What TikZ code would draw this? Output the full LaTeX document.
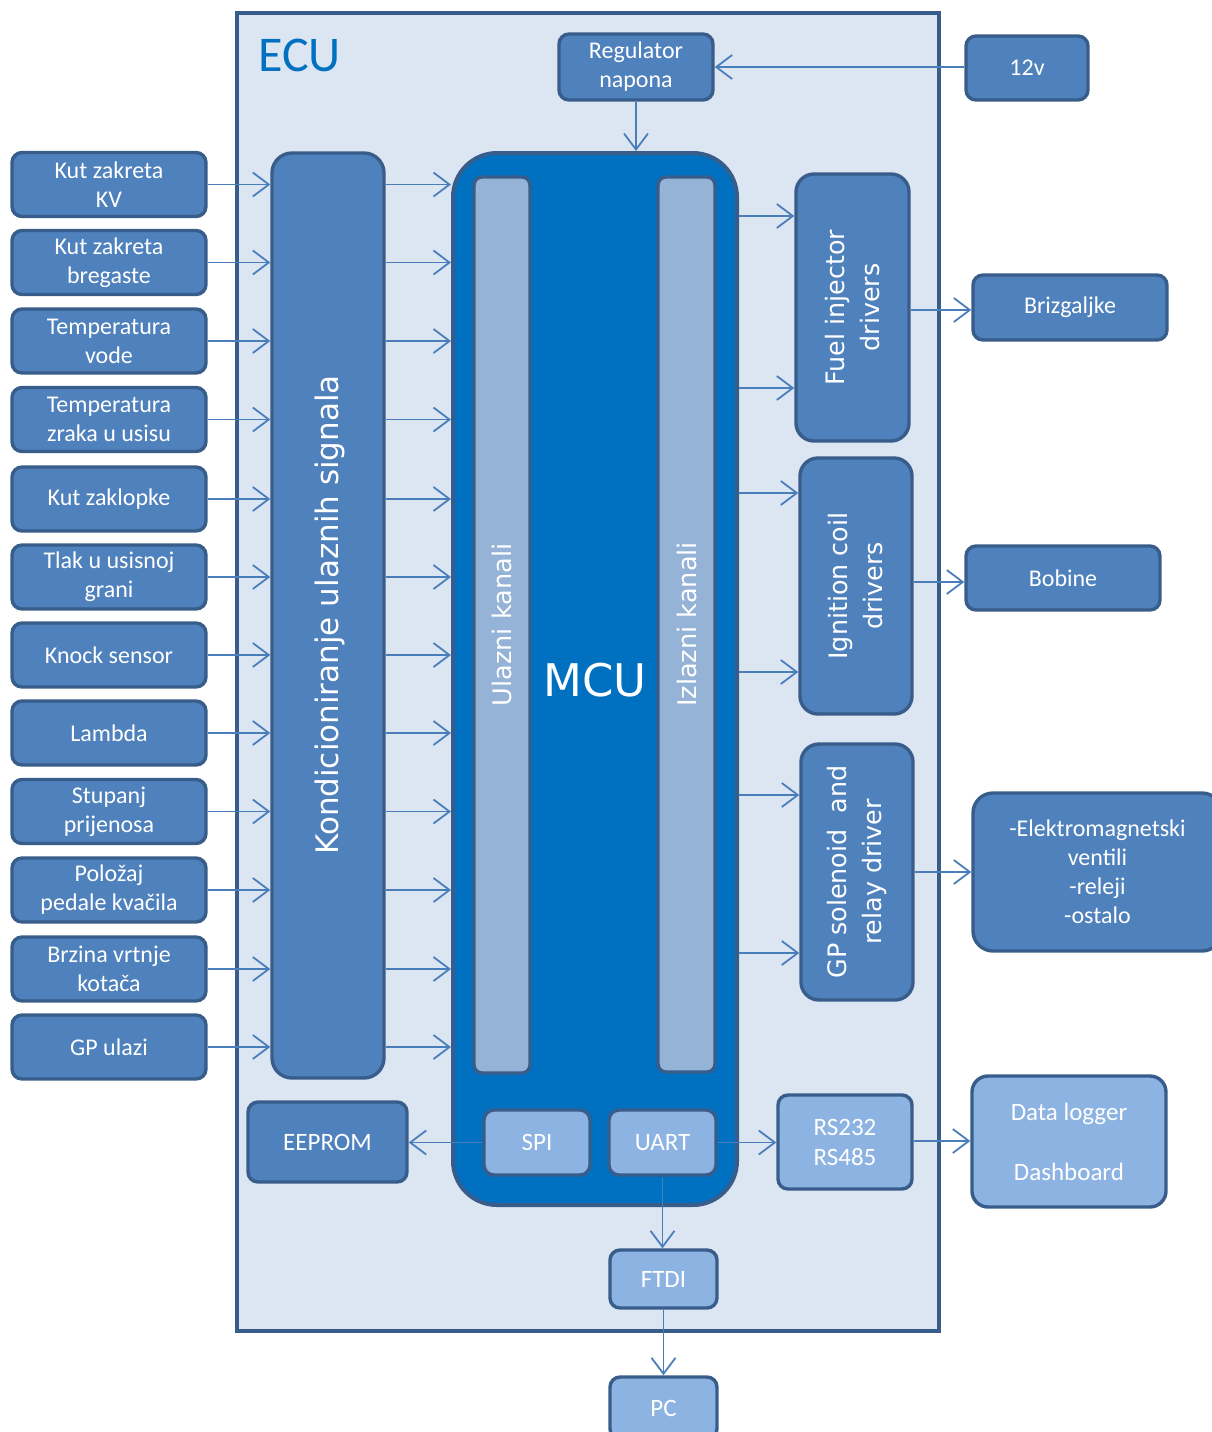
\documentclass[tikz,border=0pt]{standalone}
\usepackage{fontspec}
\setmainfont{Carlito}
\newfontfamily\vfont{DejaVu Sans}
\usetikzlibrary{arrows.meta}
\definecolor{ecufill}{HTML}{DCE6F2}
\definecolor{bord}{HTML}{385D8A}
\definecolor{boxfill}{HTML}{4F81BD}
\definecolor{mcufill}{HTML}{0070C0}
\definecolor{chanfill}{HTML}{95B3D7}
\definecolor{lightfill}{HTML}{8DB3E2}
\definecolor{arrc}{HTML}{4A7EBB}
\tikzset{
  sz/.style 2 args={minimum width={#1*0.5pt}, minimum height={#2*0.5pt}},
  box/.style={draw=bord, line width=1.7pt, fill=boxfill, rounded corners=5pt,
    text=white, align=center, inner sep=0pt, font=\fontsize{12}{14.5}\selectfont},
  lbox/.style={box, fill=lightfill, font=\fontsize{12.5}{15}\selectfont},
  chan/.style={draw=bord, line width=1.7pt, fill=chanfill, rounded corners=4pt, inner sep=0pt},
  rtext/.style={rotate=90, text=white, align=center, inner sep=0pt},
  arr/.style={draw=arrc, line width=0.9pt, -{Straight Barb[length=8pt,width=12pt]}}
}
\begin{document}
\begin{tikzpicture}[x=0.5pt,y=-0.5pt]
\useasboundingbox (0,0) rectangle (1212,1432);
% ECU frame
\node[draw=bord, line width=2.4pt, fill=ecufill, sz={702}{1318}, inner sep=0pt] (ecu) at (588,672) {};
\node[anchor=west, text=mcufill, font=\fontsize{25}{30}\selectfont, inner sep=0pt] (ecut) at (258,55) {ECU};
% input boxes
\foreach \n/\y/\t in {1/184.5/{Kut zakreta\\KV},2/262.5/{Kut zakreta\\bregaste},3/341/{Temperatura\\vode},
  4/419.5/{Temperatura\\zraka u usisu},5/499/{Kut zaklopke},6/577/{Tlak u usisnoj\\grani},
  7/655/{Knock sensor},8/733/{Lambda},9/811.5/{Stupanj\\prijenosa},10/890/{Položaj\\pedale kvačila},
  11/969/{Brzina vrtnje\\kotača},12/1047/{GP ulazi}}{
  \node[box, sz={194}{64}] (in\n) at (109,\y) {\t};
}
% Kondicioniranje
\node[box, sz={112}{925}, rounded corners=10pt] (kond) at (328,615.5) {};
\node[rtext, font=\vfont\fontsize{15.5}{18}\selectfont] (kondt) at (330,615) {Kondicioniranje ulaznih signala};
% MCU
\node[draw=bord, line width=2pt, fill=mcufill, rounded corners=22pt, sz={284}{1052}, inner sep=0pt] (mcu) at (595,679) {};
\node[chan, sz={56}{896}] (ul) at (502,625) {};
\node[chan, sz={57}{895}] (iz) at (686.5,624.5) {};
\node[rtext, font=\vfont\fontsize{12.8}{16}\selectfont] (ult) at (ul.center) {Ulazni kanali};
\node[rtext, font=\vfont\fontsize{12.8}{16}\selectfont] (izt) at (iz.center) {Izlazni kanali};
\node[text=white, font=\vfont\fontsize{22.5}{26}\selectfont, inner sep=0pt] (mcut) at (595,680) {MCU};
\node[lbox, sz={106}{65}] (spi) at (537,1142.5) {SPI};
\node[lbox, sz={107}{65}] (uart) at (662.5,1142.5) {UART};
% regulator and 12v
\node[box, sz={154}{66}] (reg) at (636,67) {Regulator\\napona};
\node[box, sz={122}{64}] (v12) at (1027,68) {12v};
% drivers
\node[box, sz={113}{267}, rounded corners=9pt] (fuel) at (852.5,307.5) {};
\node[rtext, font=\vfont\fontsize{12.7}{17.5}\selectfont] (fuelt) at (fuel.center) {Fuel injector\\drivers};
\node[box, sz={112}{256}, rounded corners=9pt] (ign) at (856,586) {};
\node[rtext, font=\vfont\fontsize{12.7}{17.5}\selectfont] (ignt) at (ign.center) {Ignition coil\\drivers};
\node[box, sz={112}{256}, rounded corners=9pt] (gp) at (857,872) {};
\node[rtext, font=\vfont\fontsize{12.7}{17.5}\selectfont] (gpt) at (gp.center) {GP solenoid~ and\\relay driver};
% outputs
\node[box, sz={194}{65}] (brz) at (1070,307.5) {Brizgaljke};
\node[box, sz={194}{64}] (bob) at (1063,578) {Bobine};
\node[box, sz={249}{158}, rounded corners=10pt] (elm) at (1097.5,872) {-Elektromagnetski\\ventili\\-releji\\-ostalo};
\node[box, sz={159}{80}, font=\fontsize{12.5}{15}\selectfont] (eep) at (327.5,1142) {EEPROM};
\node[lbox, sz={134}{94}] (rs) at (845,1142) {RS232\\RS485};
\node[lbox, sz={194}{131}, rounded corners=8pt, font=\fontsize{12.5}{15}\selectfont] (dl) at (1069,1141.5) {Data logger\\[15pt]Dashboard};
\node[lbox, sz={107}{58}] (ftdi) at (663.5,1279) {FTDI};
\node[lbox, sz={107}{62}] (pc) at (663.5,1408) {PC};
% connectors: inputs
\foreach \n in {1,...,12}{
  \draw[arr] (in\n.east) -- (in\n.east -| kond.west);
  \draw[arr] (in\n.east -| kond.east) -- (in\n.east -| mcu.west);
}
\draw[arr] (v12.west |- reg.east) -- (reg.east);
\draw[arr] (reg.south) -- (reg.south |- mcu.north);
\draw[arr] (mcu.east |- 0,216) -- (fuel.west |- 0,216);
\draw[arr] (mcu.east |- 0,388) -- (fuel.west |- 0,388);
\draw[arr] (mcu.east |- 0,493) -- (ign.west |- 0,493);
\draw[arr] (mcu.east |- 0,672) -- (ign.west |- 0,672);
\draw[arr] (mcu.east |- 0,795) -- (gp.west |- 0,795);
\draw[arr] (mcu.east |- 0,953) -- (gp.west |- 0,953);
\draw[arr] (fuel.east |- 0,310) -- (brz.west |- 0,310);
\draw[arr] (ign.east |- 0,582) -- (bob.west |- 0,582);
\draw[arr] (gp.east |- 0,872) -- (elm.west |- 0,872);
\draw[arr] (spi.west) -- (eep.east |- spi.west);
\draw[arr] (uart.east) -- (rs.west |- uart.east);
\draw[arr] (rs.east |- 0,1141) -- (dl.west |- 0,1141);
\draw[arr] (uart.south) -- (uart.south |- ftdi.north);
\draw[arr] (ftdi.south) -- (ftdi.south |- pc.north);
\end{tikzpicture}
\end{document}
